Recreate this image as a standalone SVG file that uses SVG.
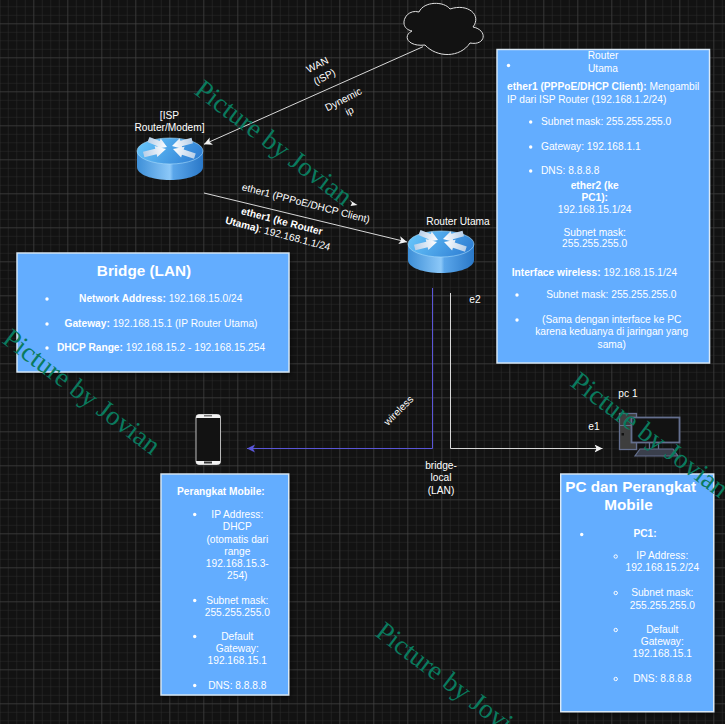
<svg xmlns="http://www.w3.org/2000/svg" xmlns:xlink="http://www.w3.org/1999/xlink" width="725" height="724" viewBox="0 0 725 724">
<style>
text{font-family:"Liberation Sans",Arial,sans-serif;font-size:10.2px;fill:#fff}
.m{text-anchor:middle}
.b{font-weight:700}
.t{font-size:15.300px;font-weight:700}
.box{fill:#63adff;stroke:#dbe9f5;stroke-width:1.4;filter:url(#sh)}
.dot{fill:#fff}
.ring{fill:none;stroke:#fff;stroke-width:1}
.wm{font-family:"Liberation Serif","Times New Roman",serif;font-size:27.200px;fill:#0a7a5e}
.wire{fill:none;stroke:#d8d8d8;stroke-width:1}
.wifi{fill:none;stroke:#5a56d8;stroke-width:1}
</style>
<defs>
<pattern id="minor" width="8.5" height="8.5" patternUnits="userSpaceOnUse" x="-.7" y="-2.2">
<path d="M0 0H8.5M0 0V8.5" fill="none" stroke="#2c2c2c" stroke-width="1"/>
</pattern>
<pattern id="major" width="34" height="34" patternUnits="userSpaceOnUse" x="-.7" y="-10.7">
<path d="M0 0H34M0 0V34" fill="none" stroke="#484848" stroke-width="1"/>
</pattern>
<filter id="sh" x="-5%" y="-5%" width="110%" height="110%"><feDropShadow dx="1" dy="2" stdDeviation="2" flood-color="#000" flood-opacity=".5"/></filter>
<linearGradient id="rSide" x1="0" x2="1" y1="0" y2="0"><stop offset="0" stop-color="#3d8fd8"/><stop offset=".5" stop-color="#8cc8f8"/><stop offset=".55" stop-color="#5aa6ea"/><stop offset="1" stop-color="#2a78c8"/></linearGradient>
<linearGradient id="rTop" x1="0" x2="1" y1=".3" y2=".6"><stop offset="0" stop-color="#66c4fa"/><stop offset="1" stop-color="#2f7fd4"/></linearGradient>
<linearGradient id="rArr" x1="0" x2="1"><stop offset="0" stop-color="#b8cfe8"/><stop offset="1" stop-color="#fff"/></linearGradient>
<polygon id="ra" points="-20,-3.500 -9,-3.500 -9,-7 0,0 -9,7 -9,3.500 -20,3.500" fill="url(#rArr)"/>
<g id="router">
<path d="M0 13V29C0 36.500 15 42 33 42S66 36.500 66 29V13Z" fill="url(#rSide)"/>
<ellipse cx="33" cy="13" rx="33" ry="13" fill="url(#rTop)" stroke="#a8dcfb" stroke-width=".6"/>
<use xlink:href="#ra" href="#ra" transform="translate(30 9) rotate(22) scale(1 .8)"/>
<use xlink:href="#ra" href="#ra" transform="translate(29 11) rotate(-14) scale(1.150 .8)"/>
<use xlink:href="#ra" href="#ra" transform="translate(35 8) rotate(165) scale(1.050 .8)"/>
<use xlink:href="#ra" href="#ra" transform="translate(36 11) rotate(198) scale(1.150 .8)"/>
</g>
<marker id="ah" markerWidth="10" markerHeight="9" refX="8" refY="4" orient="auto" markerUnits="userSpaceOnUse"><path d="M0 0L8 4L0 8L2 4Z" fill="#f2f2f2"/></marker>
<marker id="ahb" markerWidth="10" markerHeight="9" refX="8" refY="4" orient="auto" markerUnits="userSpaceOnUse"><path d="M0 0L8 4L0 8L2 4Z" fill="#5a56d8"/></marker>
</defs>
<rect width="725" height="724" fill="#121212"/>
<rect width="725" height="724" fill="url(#minor)"/>
<rect width="725" height="724" fill="url(#major)"/>

<g id="connectors">
<path class="wire" marker-end="url(#ah)" d="M423 46.700L204 144.300"/>
<path class="wire" marker-end="url(#ah)" d="M204 193L407 242"/>
<path class="wifi" marker-end="url(#ahb)" d="M432.500 288V448.500H247"/>
<path class="wire" marker-end="url(#ah)" d="M450.500 293V448.500H602.500"/>
<path d="M349.500 200L357.500 205L350.500 206L352 203Z" fill="#f2f2f2"/>
</g>

<g id="connector-labels">
<text class="m" transform="translate(319 68) rotate(-27)">WAN</text>
<text class="m" transform="translate(326 80) rotate(-27)">(ISP)</text>
<text class="m" transform="translate(345 102.500) rotate(-27)">Dynemic</text>
<text class="m" transform="translate(351 114) rotate(-27)">ip</text>
<text class="m" transform="translate(305 206.500) rotate(14.600)">ether1 (PPPoE/DHCP Client)</text>
<text class="m b" transform="translate(281 224.500) rotate(14.600)">ether1 (ke Router</text>
<text class="m" transform="translate(277 237) rotate(14.600)"><tspan class="b">Utama)</tspan>: 192.168.1.1/24</text>
<text class="m" x="475" y="303">e2</text>
<text class="m" transform="translate(401 413) rotate(-45)">wireless</text>
<text class="m" x="441" y="469">bridge-</text>
<text class="m" x="441" y="481">local</text>
<text class="m" x="441" y="494">(LAN)</text>
<text class="m" x="594" y="430">e1</text>
</g>

<g id="cloud">
<path d="M425 45C437 58 460 58 470 43C486 46 488 30 473 27C482 15 468 3 450 9C444 1 424 1 419 12C405 8 397 28 412 31C402 36 408 47 425 45Z" fill="#121212" stroke="#e0e0e0" stroke-width="1"/>
</g>

<g id="isp-router">
<use xlink:href="#router" href="#router" x="137" y="138"/>
<text class="m" x="169.500" y="118.500">[ISP</text>
<text class="m" x="169.500" y="131">Router/Modem]</text>
</g>

<g id="router-utama">
<use xlink:href="#router" href="#router" x="408" y="231"/>
<text class="m" x="458" y="225">Router Utama</text>
</g>

<g id="phone">
<rect x="196" y="414.500" width="24.500" height="50" rx="3" fill="#121212" stroke="#b8b8b8" stroke-width="1"/>
<path d="M196 418V417.500Q196 414.500 199 414.500H217.500Q220.500 414.500 220.500 417.500V418Z" fill="#f2f2f2"/>
<path d="M196 461V461.500Q196 464.500 199 464.500H217.500Q220.500 464.500 220.500 461.500V461Z" fill="#f2f2f2"/>
<rect x="204" y="461.500" width="8" height="2" fill="#333"/>
<rect x="204" y="415" width="8" height="1.500" fill="#777"/>
</g>

<g id="pc">
<rect x="619.500" y="413.500" width="17" height="36" fill="#3e3e3e" stroke="#646f8e" stroke-width="1.300"/>
<rect x="620" y="425" width="16" height="1" fill="#646f8e"/>
<rect x="621.500" y="433" width="2.500" height="2.500" fill="#111"/>
<rect x="631.500" y="417.500" width="48" height="25" fill="#121212" stroke="#646f8e" stroke-width="1.800"/>
<path d="M649.500 443V449M658.500 443V449" stroke="#646f8e" stroke-width="1.300"/>
<path d="M640 449L635 456H678L673 449Z" fill="#3a3f4c" stroke="#646f8e" stroke-width="1.200"/>
<text class="m" x="628" y="396.500">pc 1</text>
</g>

<g id="bridge-lan">
<rect class="box" x="17" y="253" width="272" height="119"/>
<text class="m t" x="144" y="276">Bridge (LAN)</text>
<circle class="dot" cx="47" cy="299" r="1.700"/><circle class="dot" cx="47" cy="324" r="1.700"/><circle class="dot" cx="47" cy="348" r="1.700"/>
<text class="m" x="160.700" y="302"><tspan class="b">Network Address:</tspan> 192.168.15.0/24</text>
<text class="m" x="161" y="327"><tspan class="b">Gateway:</tspan> 192.168.15.1 (IP Router Utama)</text>
<text class="m" x="161" y="351"><tspan class="b">DHCP Range:</tspan> 192.168.15.2 - 192.168.15.254</text>
</g>

<g id="router-info">
<rect class="box" x="497" y="49.500" width="212.500" height="313.500"/>
<circle class="dot" cx="508.500" cy="65.500" r="1.700"/>
<text class="m" x="603" y="59">Router</text>
<text class="m" x="603" y="72">Utama</text>
<text x="507" y="90"><tspan class="b">ether1 (PPPoE/DHCP Client):</tspan> Mengambil</text>
<text x="507" y="103">IP dari ISP Router (192.168.1.2/24)</text>
<circle class="dot" cx="530.700" cy="122" r="1.700"/><circle class="dot" cx="530.700" cy="147" r="1.700"/><circle class="dot" cx="530.700" cy="171" r="1.700"/>
<text x="541" y="125">Subnet mask: 255.255.255.0</text>
<text x="541" y="150">Gateway: 192.168.1.1</text>
<text x="541" y="174">DNS: 8.8.8.8</text>
<text class="m b" x="594.700" y="189">ether2 (ke</text>
<text class="m b" x="594.700" y="201">PC1):</text>
<text class="m" x="594.700" y="213">192.168.15.1/24</text>
<text class="m" x="594.700" y="236">Subnet mask:</text>
<text class="m" x="594.700" y="247">255.255.255.0</text>
<text x="511.700" y="276"><tspan class="b">Interface wireless:</tspan> 192.168.15.1/24</text>
<circle class="dot" cx="517" cy="295" r="1.700"/><circle class="dot" cx="517" cy="320" r="1.700"/>
<text class="m" x="611.300" y="298">Subnet mask: 255.255.255.0</text>
<text class="m" x="611.700" y="323">(Sama dengan interface ke PC</text>
<text class="m" x="611.700" y="335">karena keduanya di jaringan yang</text>
<text class="m" x="611.700" y="347.500">sama)</text>
</g>

<g id="mobile-info">
<rect class="box" x="161" y="474" width="127.700" height="221"/>
<text class="b" x="177" y="495">Perangkat Mobile:</text>
<circle class="dot" cx="194.700" cy="514.500" r="1.700"/><circle class="dot" cx="194.700" cy="600.500" r="1.700"/><circle class="dot" cx="194.700" cy="636.500" r="1.700"/><circle class="dot" cx="194.700" cy="685.500" r="1.700"/>
<text class="m" x="237.300" y="518">IP Address:</text>
<text class="m" x="237.300" y="530">DHCP</text>
<text class="m" x="237.300" y="542.500">(otomatis dari</text>
<text class="m" x="237.300" y="554.500">range</text>
<text class="m" x="237.300" y="566.500">192.168.15.3-</text>
<text class="m" x="237.300" y="579">254)</text>
<text class="m" x="237.300" y="604">Subnet mask:</text>
<text class="m" x="237.300" y="616">255.255.255.0</text>
<text class="m" x="237.300" y="640">Default</text>
<text class="m" x="237.300" y="652">Gateway:</text>
<text class="m" x="237.300" y="664">192.168.15.1</text>
<text class="m" x="237.300" y="689">DNS: 8.8.8.8</text>
</g>

<g id="pc-info">
<rect class="box" x="560.700" y="474" width="153" height="237.700"/>
<text class="m t" x="630.700" y="491.500">PC dan Perangkat</text>
<text class="m t" x="628.500" y="510">Mobile</text>
<circle class="dot" cx="581.700" cy="534.500" r="1.700"/>
<text class="m b" x="645" y="537">PC1:</text>
<circle class="ring" cx="615.700" cy="556.500" r="1.700"/><circle class="ring" cx="615.700" cy="593" r="1.700"/><circle class="ring" cx="615.700" cy="630" r="1.700"/><circle class="ring" cx="615.700" cy="679" r="1.700"/>
<text class="m" x="662.300" y="559">IP Address:</text>
<text class="m" x="662.300" y="571">192.168.15.2/24</text>
<text class="m" x="662.300" y="596">Subnet mask:</text>
<text class="m" x="662.300" y="609">255.255.255.0</text>
<text class="m" x="662.300" y="633">Default</text>
<text class="m" x="662.300" y="645">Gateway:</text>
<text class="m" x="662.300" y="657">192.168.15.1</text>
<text class="m" x="662.300" y="682">DNS: 8.8.8.8</text>
</g>

<g id="watermarks">
<text class="wm" transform="translate(193 93) rotate(37)">Picture by Jovian</text>
<text class="wm" transform="translate(1 342) rotate(37)">Picture by Jovian</text>
<text class="wm" transform="translate(569 385) rotate(37)">Picture by Jovian</text>
<text class="wm" transform="translate(374 635) rotate(37)">Picture by Jovian</text>
</g>
</svg>
